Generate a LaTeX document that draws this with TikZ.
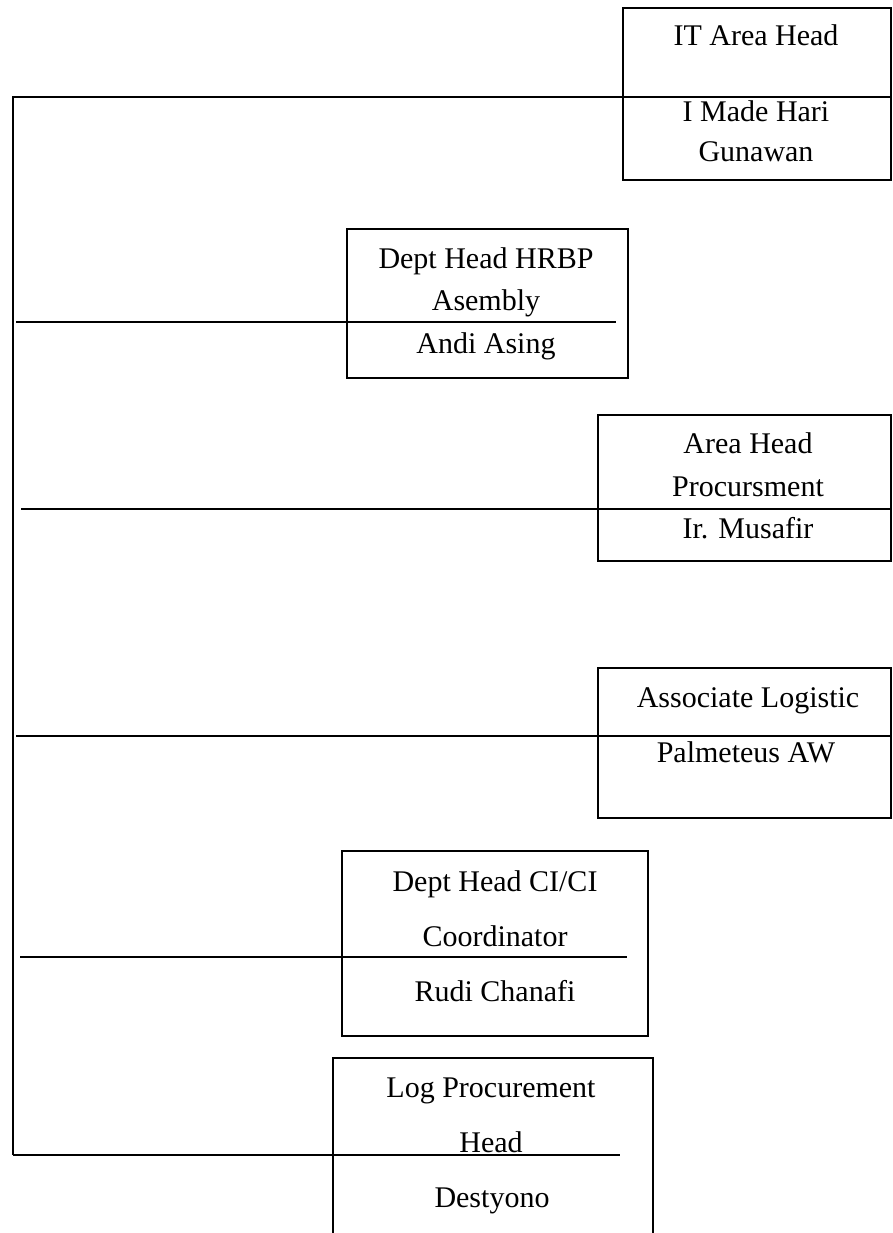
\documentclass[tikz,border=0pt]{standalone}
\usepackage{fontspec}
\setmainfont{Liberation Serif}
\begin{document}
\begin{tikzpicture}[x=1pt,y=-1pt,
  box/.style={draw, line width=1.6pt, inner sep=0pt, anchor=north west},
  lbl/.style={font=\fontsize{30}{36}\selectfont, inner sep=0pt, anchor=base},
  wire/.style={line width=1.8pt}]
\clip (0,0) rectangle (892,1233);
\fill[white] (0,0) rectangle (892,1233);
% boxes
\node[box, minimum width=268pt, minimum height=172pt] (b1) at (622,7) {};
\node[box, minimum width=281pt, minimum height=149pt] (b2) at (346,228) {};
\node[box, minimum width=293pt, minimum height=146pt] (b3) at (597,414) {};
\node[box, minimum width=293pt, minimum height=150pt] (b4) at (597,667) {};
\node[box, minimum width=306pt, minimum height=185pt] (b5) at (341,850) {};
\node[box, minimum width=320pt, minimum height=200pt] (b6) at (332,1057) {};
% texts
\node[lbl] (t1a) at (756,46) {IT Area Head};
\node[lbl] (t1b) at (756,122) {I Made Hari};
\node[lbl] (t1c) at (756,162) {Gunawan};
\node[lbl] (t2a) at (486,268) {Dept Head HRBP};
\node[lbl] (t2b) at (486,310) {Asembly};
\node[lbl] (t2c) at (486,353) {Andi Asing};
\node[lbl] (t3a) at (748,453) {Area Head};
\node[lbl] (t3b) at (748,496) {Procursment};
\node[lbl] (t3c) at (748,538) {Ir. Musafir};
\node[lbl] (t4a) at (748,707) {Associate Logistic};
\node[lbl] (t4b) at (746,762) {Palmeteus AW};
\node[lbl] (t5a) at (495,891) {Dept Head CI/CI};
\node[lbl] (t5b) at (495,946) {Coordinator};
\node[lbl] (t5c) at (495,1001) {Rudi Chanafi};
\node[lbl] (t6a) at (491,1097) {Log Procurement};
\node[lbl] (t6b) at (491,1152) {Head};
\node[lbl] (t6c) at (492,1207) {Destyono};
% connector coordinates
\coordinate (top) at (13,97);
\coordinate (bot) at (13,1155);
\coordinate (e1) at (892,97);
\coordinate (s2) at (16,322);  \coordinate (e2) at (616,322);
\coordinate (s3) at (21,509);  \coordinate (e3) at (892,509);
\coordinate (s4) at (16,736);  \coordinate (e4) at (892,736);
\coordinate (s5) at (20,957);  \coordinate (e5) at (627,957);
\coordinate (e6) at (620,1155);
% connectors
\draw[wire] (bot) -- (top) -- (e1);
\draw[wire] (s2) -- (e2);
\draw[wire] (s3) -- (e3);
\draw[wire] (s4) -- (e4);
\draw[wire] (s5) -- (e5);
\draw[wire] (bot) -- (e6);
\end{tikzpicture}
\end{document}
